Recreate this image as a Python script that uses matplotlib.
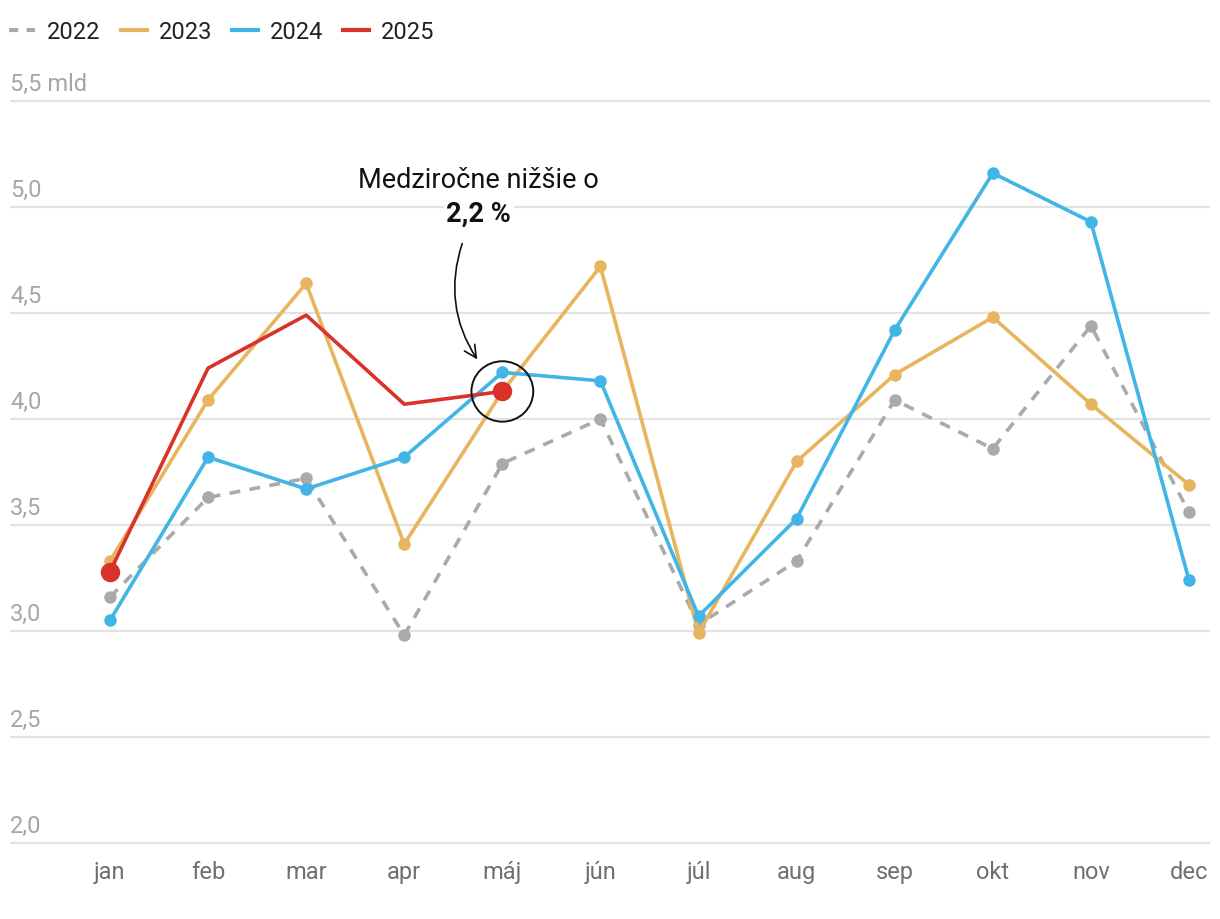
import numpy as np
import matplotlib.pyplot as plt
from matplotlib.lines import Line2D
from matplotlib.patches import Ellipse

plt.rcParams['font.family'] = ['Roboto', 'DejaVu Sans']

# months and values (mld)
months = ['jan', 'feb', 'mar', 'apr', 'máj', 'jún', 'júl', 'aug', 'sep', 'okt', 'nov', 'dec']
v2022 = [3.16, 3.63, 3.72, 2.98, 3.79, 4.00, 3.03, 3.33, 4.09, 3.86, 4.44, 3.56]
v2023 = [3.33, 4.09, 4.64, 3.41, 4.13, 4.72, 2.99, 3.80, 4.21, 4.48, 4.07, 3.69]
v2024 = [3.05, 3.82, 3.67, 3.82, 4.22, 4.18, 3.07, 3.53, 4.42, 5.16, 4.93, 3.24]
v2025 = [3.28, 4.24, 4.49, 4.07, 4.13]
yticks = [2.0, 2.5, 3.0, 3.5, 4.0, 4.5, 5.0, 5.5]
ytick_labels = ['2,0', '2,5', '3,0', '3,5', '4,0', '4,5', '5,0', '5,5 mld']

c22 = '#aaaaaa'
c23 = '#e8b55e'
c24 = '#41b6e6'
c25 = '#d93228'

fig = plt.figure(figsize=(12.2, 9.2), dpi=100)
ax = fig.add_axes([0.0082, 0.078, 0.9836, 0.8157])
x = np.arange(len(months))

ax.plot(x, v2022, color=c22, lw=2.6, ls=(0, (3, 2.6)), marker='o', ms=8, zorder=3)
ax.plot(x, v2023, color=c23, lw=2.6, marker='o', ms=8, zorder=4)
ax.plot(x, v2024, color=c24, lw=2.6, marker='o', ms=8, zorder=5)
ax.plot(np.arange(len(v2025)), v2025, color=c25, lw=2.6, marker='o', ms=13,
        markevery=[0, len(v2025) - 1], zorder=6)

ax.set_xlim(-1.019, 11.214)
ax.set_ylim(1.98, 5.52)

# grid + y labels above the lines
for t, lab in zip(yticks, ytick_labels):
    ax.axhline(t, color='#e3e3e3', lw=1.6, zorder=1)
    ax.text(0.0, t + 0.03, lab, transform=ax.get_yaxis_transform(),
            ha='left', va='bottom', fontsize=17, color='#a6a6a6')
ax.set_yticks([])
ax.set_xticks(x)
ax.set_xticklabels(months, fontsize=17, color='#707070')
ax.tick_params(axis='x', length=0, pad=9)
for s in ax.spines.values():
    s.set_visible(False)

# annotation
last = len(v2025) - 1
ax.add_patch(Ellipse((last, v2025[last]), 0.63, 0.285, fill=False,
                     ec='#111111', lw=1.4, zorder=7))
ax.annotate('', xy=(3.76, 4.27), xytext=(3.6, 4.84),
            arrowprops=dict(arrowstyle='->', color='#111111', lw=1.2,
                            connectionstyle='arc3,rad=0.25', mutation_scale=22))
ax.text(3.76, 5.094, 'Medziročne nižšie o', ha='center', va='baseline',
        fontsize=19.5, color='#111111', zorder=8)
ax.text(3.76, 4.935, '2,2 %', ha='center', va='baseline', fontsize=19.5,
        fontweight='bold', color='#111111', zorder=8,
        bbox=dict(fc='white', ec='none', pad=2))

# legend
handles = [Line2D([], [], color=c22, lw=3, ls=(0, (2.2, 2))),
           Line2D([], [], color=c23, lw=3),
           Line2D([], [], color=c24, lw=3),
           Line2D([], [], color=c25, lw=3)]
fig.legend(handles, ['2022', '2023', '2024', '2025'], loc='upper left',
           bbox_to_anchor=(0.0, 0.987), ncol=4, frameon=False, fontsize=17,
           handlelength=1.1, handletextpad=0.5, columnspacing=0.85,
           borderaxespad=0.0, borderpad=0.4, labelcolor='#222222')

fig.savefig('out.png', dpi=100)
